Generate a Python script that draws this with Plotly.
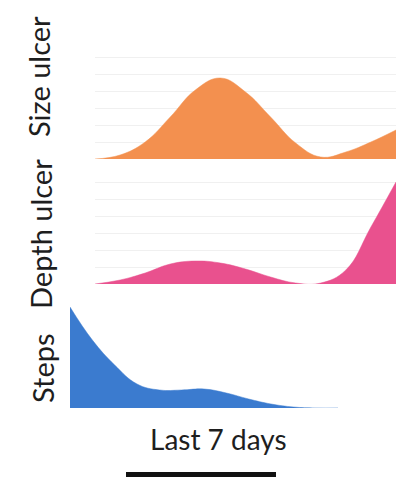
import plotly.graph_objects as go

W, H = 404, 478

days = [1, 1.5, 2, 2.5, 3, 3.5, 4, 4.5, 5, 5.5, 6, 6.5, 7]
size_ulcer = [0, 4, 17, 42, 69, 81, 67, 42, 16, 2, 7, 17, 29]
depth_ulcer = [0, 4, 11, 20, 23, 21, 15, 7, 1, 1, 14, 57, 102]
steps = [101, 68, 43, 24, 18, 18, 19, 15, 9, 4, 1, 0, 0]

panel_titles = ["Size ulcer", "Depth ulcer", "Steps"]
x_title = "Last 7 days"

colors = ["#F3904F", "#E9518E", "#3B7BCF"]

def px_x(p):
    return p / W

def px_y(p):
    return 1 - p / H

fig = go.Figure()

series = [size_ulcer, depth_ulcer, steps]
for i, (vals, c) in enumerate(zip(series, colors)):
    n = i + 1
    fig.add_trace(go.Scatter(
        x=days, y=vals, mode="lines", fill="tozeroy",
        line=dict(color=c, width=0.5, shape="spline", smoothing=1.2),
        fillcolor=c, hoverinfo="skip", showlegend=False,
        xaxis="x" if n == 1 else f"x{n}", yaxis="y" if n == 1 else f"y{n}",
    ))

# panel geometry (pixels): x0, x1, y_top, y_bottom, y range max
panels = [
    (95, 396, 40, 159, 119),
    (95, 396, 170, 284, 114),
    (70, 338, 300, 408, 108),
]

layout = dict(
    width=W, height=H,
    margin=dict(l=0, r=0, t=0, b=0),
    paper_bgcolor="white", plot_bgcolor="rgba(0,0,0,0)",
    showlegend=False,
)
for i, (x0, x1, yt, yb, ymax) in enumerate(panels):
    n = i + 1
    xk = "xaxis" if n == 1 else f"xaxis{n}"
    yk = "yaxis" if n == 1 else f"yaxis{n}"
    layout[xk] = dict(domain=[px_x(x0), px_x(x1)], range=[1, 7],
                      anchor="y" if n == 1 else f"y{n}",
                      showgrid=False, zeroline=False, showticklabels=False,
                      ticks="", showline=False, fixedrange=True)
    layout[yk] = dict(domain=[px_y(yb), px_y(yt)], range=[0, ymax],
                      anchor="x" if n == 1 else f"x{n}",
                      showgrid=n < 3, gridcolor="rgba(228,228,228,0.55)", gridwidth=1,
                      dtick=17, zeroline=False, showticklabels=False,
                      ticks="", showline=False, fixedrange=True)
fig.update_layout(**layout)

title_pos = [(38, 77), (40, 234), (42, 368)]
annotations = []
for t, (x, y) in zip(panel_titles, title_pos):
    annotations.append(dict(
        text=t, x=px_x(x), y=px_y(y), xref="paper", yref="paper",
        showarrow=False, textangle=-90, xanchor="center", yanchor="middle",
        font=dict(family="Lato", size=29, color="#1e1e1e"),
    ))
annotations.append(dict(
    text=x_title, x=px_x(218), y=px_y(439), xref="paper", yref="paper",
    showarrow=False, xanchor="center", yanchor="middle",
    font=dict(family="Lato", size=28, color="#1e1e1e"),
))
fig.update_layout(annotations=annotations)

fig.add_shape(type="line", xref="paper", yref="paper",
              x0=px_x(126), x1=px_x(276), y0=px_y(474.5), y1=px_y(474.5),
              line=dict(color="#111111", width=5))

fig.write_html("out.html", config={"displayModeBar": False},
               post_script="document.body.style.margin='0';document.body.style.overflow='hidden';")
